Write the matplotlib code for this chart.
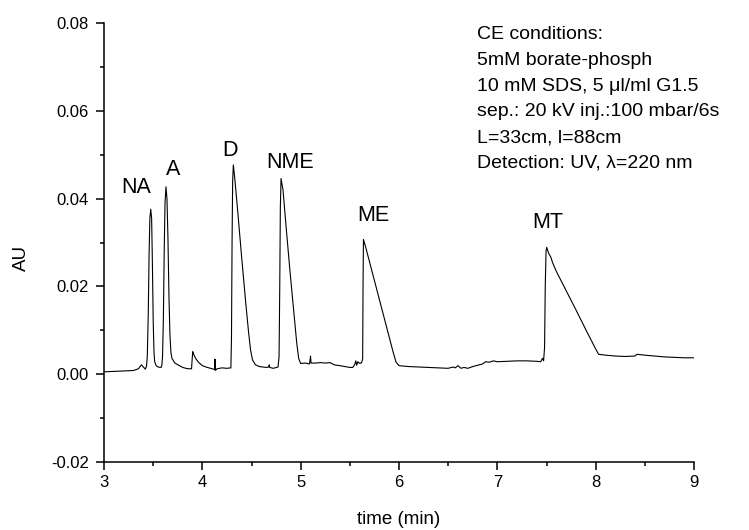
import numpy as np
import matplotlib
matplotlib.use('Agg')
import matplotlib.pyplot as plt
from matplotlib.ticker import MultipleLocator

plt.rcParams['font.family'] = ['Liberation Sans', 'DejaVu Sans']

# electropherogram trace, time in min / absorbance in AU
time_min = [
    3.00, 3.10, 3.20, 3.30, 3.35, 3.38, 3.40, 3.42,
    # NA
    3.432, 3.440, 3.450, 3.458, 3.466, 3.475, 3.484, 3.492, 3.500, 3.508, 3.515,
    3.53, 3.55, 3.58, 3.588,
    # A
    3.595, 3.603, 3.612, 3.620, 3.630, 3.640, 3.650, 3.660, 3.670, 3.680,
    3.69, 3.72, 3.76, 3.80, 3.85, 3.89, 3.895, 3.902, 3.91, 3.93, 3.96,
    4.00, 4.05, 4.10, 4.125, 4.128, 4.132, 4.15, 4.20, 4.25, 4.29,
    # D
    4.296, 4.302, 4.308, 4.315, 4.33, 4.36, 4.40, 4.44, 4.47, 4.49, 4.51,
    4.54, 4.58, 4.65, 4.675, 4.68, 4.685, 4.72, 4.77,
    # NME
    4.780, 4.787, 4.793, 4.800, 4.82, 4.85, 4.89, 4.93, 4.96, 4.98, 5.00,
    5.05, 5.09, 5.10, 5.105, 5.15, 5.20, 5.25, 5.30, 5.34, 5.40, 5.45,
    5.50, 5.53, 5.55, 5.56, 5.57, 5.58, 5.60, 5.62, 5.63,
    # ME
    5.634, 5.638, 5.66, 5.70, 5.75, 5.80, 5.85, 5.90, 5.94, 5.97, 6.00,
    6.10, 6.20, 6.30, 6.40, 6.50, 6.55, 6.57, 6.60, 6.63, 6.66, 6.70,
    6.75, 6.80, 6.85, 6.88, 6.92, 6.96, 7.00, 7.10, 7.20, 7.30, 7.40,
    7.44, 7.46, 7.47, 7.48,
    # MT
    7.487, 7.495, 7.502, 7.52, 7.545, 7.56, 7.60, 7.70, 7.80, 7.90, 8.00,
    8.03, 8.10, 8.20, 8.30, 8.40, 8.42, 8.50, 8.60, 8.70, 8.80, 8.90, 9.00,
]
absorbance = [
    0.0005, 0.0006, 0.0007, 0.0008, 0.0012, 0.0021, 0.0016, 0.0011,
    0.0018, 0.0040, 0.0140, 0.0270, 0.0355, 0.0376, 0.0355, 0.0250, 0.0120, 0.0050, 0.0028,
    0.0019, 0.0016, 0.0015, 0.0020,
    0.0040, 0.0120, 0.0280, 0.0390, 0.0427, 0.0400, 0.0310, 0.0180, 0.0090, 0.0050,
    0.0036, 0.0025, 0.0020, 0.0015, 0.0012, 0.0012, 0.0030, 0.0051, 0.0046, 0.0036, 0.0027,
    0.0019, 0.0015, 0.0012, 0.0010, 0.0034, 0.0008, 0.0012, 0.0014, 0.0013, 0.0014,
    0.0080, 0.0300, 0.0440, 0.0477, 0.0445, 0.0370, 0.0265, 0.0165, 0.0095, 0.0055, 0.0032,
    0.0021, 0.0017, 0.0015, 0.0016, 0.0021, 0.0015, 0.0013, 0.0016,
    0.0040, 0.0200, 0.0380, 0.0446, 0.0420, 0.0340, 0.0237, 0.0140, 0.0070, 0.0035, 0.0024,
    0.0025, 0.0023, 0.0041, 0.0025, 0.0025, 0.0026, 0.0025, 0.0026, 0.0021, 0.0019, 0.0017,
    0.0015, 0.0015, 0.0022, 0.0030, 0.0020, 0.0028, 0.0024, 0.0026, 0.0035,
    0.0200, 0.0307, 0.0290, 0.0256, 0.0213, 0.0170, 0.0127, 0.0085, 0.0050, 0.0027, 0.0019,
    0.0017, 0.0016, 0.0015, 0.0014, 0.0013, 0.0016, 0.0014, 0.0019, 0.0013, 0.0015, 0.0013,
    0.0017, 0.0020, 0.0023, 0.0028, 0.0027, 0.0030, 0.0028, 0.0029, 0.0030, 0.0030, 0.0029,
    0.0028, 0.0036, 0.0030, 0.0060,
    0.0200, 0.0280, 0.0289, 0.0276, 0.0266, 0.0255, 0.0234, 0.0190, 0.0146, 0.0101, 0.0057,
    0.0045, 0.0043, 0.0041, 0.0040, 0.0041, 0.0045, 0.0043, 0.0041, 0.0039, 0.0038, 0.0037, 0.0037,
]

# peak names and where they sit (time, AU)
peak_names = ['NA', 'A', 'D', 'NME', 'ME', 'MT']
peak_label_t = [3.327, 3.705, 4.286, 4.892, 5.743, 7.515]
peak_label_y = [0.0413, 0.0454, 0.0498, 0.0470, 0.0350, 0.0334]

conditions = [
    'CE conditions:',
    '5mM borate-phosph',
    '10 mM SDS, 5 \u03bcl/ml G1.5',
    'sep.: 20 kV inj.:100 mbar/6s',
    'L=33cm, l=88cm',
    'Detection: UV, \u03bb=220 nm',
]

fig = plt.figure(figsize=(7.49, 5.30), dpi=100)
ax = fig.add_axes([0.1389, 0.1289, 0.7877, 0.8271])

ax.plot(time_min, absorbance, color='black', lw=0.8)

ax.set_xlim(3, 9)
ax.set_ylim(-0.02, 0.08)
ax.xaxis.set_major_locator(MultipleLocator(1))
ax.xaxis.set_minor_locator(MultipleLocator(0.5))
ax.yaxis.set_major_locator(MultipleLocator(0.02))
ax.yaxis.set_minor_locator(MultipleLocator(0.01))
ax.yaxis.set_major_formatter(matplotlib.ticker.FormatStrFormatter('%.2f'))

for s in ['top', 'right']:
    ax.spines[s].set_visible(False)
for s in ['left', 'bottom']:
    ax.spines[s].set_linewidth(1.1)

ax.tick_params(which='major', length=6, width=1.1, labelsize=12, direction='out')
ax.tick_params(which='minor', length=3, width=1.1, direction='out')
ax.tick_params(axis='x', pad=3.5)
ax.tick_params(axis='y', pad=5)

for name, tx, ty in zip(peak_names, peak_label_t, peak_label_y):
    ax.text(tx, ty, name, ha='center', va='baseline', fontsize=15.5)

# run conditions block, one line at a time
for i, line in enumerate(conditions):
    fig.text(476.7 / 749, 1 - (39.3 + 25.7 * i) / 530, line,
             ha='left', va='baseline', fontsize=14)

fig.text(399 / 749, 1 - 524 / 530, 'time (min)', ha='center', va='baseline', fontsize=13.5)
fig.text(21.7 / 749, 1 - 258 / 530, 'AU', ha='center', va='center',
         rotation=90, fontsize=13.5)

fig.savefig('out.png', dpi=100)
